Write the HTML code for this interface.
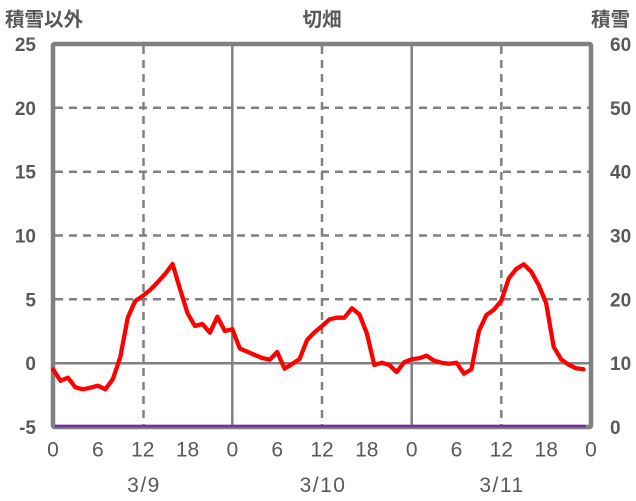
<!DOCTYPE html>
<html>
<head>
<meta charset="utf-8">
<style>
html,body{margin:0;padding:0;background:#fff;}
svg{display:block;}
text{font-family:"Liberation Sans","Noto Sans CJK JP",sans-serif;fill:#595959;}
</style>
</head>
<body>
<svg width="636" height="501" viewBox="0 0 636 501" xmlns="http://www.w3.org/2000/svg">
  <!-- horizontal dashed grid -->
  <g stroke="#808080" stroke-width="2.5" stroke-dasharray="8 6" fill="none">
    <line x1="55" y1="107.8" x2="589" y2="107.8"/>
    <line x1="55" y1="171.7" x2="589" y2="171.7"/>
    <line x1="55" y1="235.5" x2="589" y2="235.5"/>
    <line x1="55" y1="299.3" x2="589" y2="299.3"/>
    <!-- vertical dashed -->
    <line x1="143.5" y1="46" x2="143.5" y2="425"/>
    <line x1="322" y1="46" x2="322" y2="425"/>
    <line x1="501.3" y1="46" x2="501.3" y2="425"/>
  </g>
  <g stroke="#808080" stroke-width="2.5" fill="none">
    <line x1="55" y1="363.2" x2="589" y2="363.2"/>
    <line x1="232.3" y1="46" x2="232.3" y2="425"/>
    <line x1="411.7" y1="46" x2="411.7" y2="425"/>
  </g>
  <!-- frame -->
  <rect x="53" y="44" width="538" height="383" fill="none" stroke="#808080" stroke-width="4.5" rx="1.5"/>
  <!-- snow line -->
  <line x1="55" y1="426" x2="586" y2="426" stroke="#7030A0" stroke-width="2.5"/>
  <!-- temperature line -->
  <polyline fill="none" stroke="#FF0000" stroke-width="4.3" stroke-linejoin="round" stroke-linecap="round"
    points="53,369.3 60.47,380.7 67.94,377.7 75.42,387.3 82.89,389.3 90.36,387.7 97.83,385.7 105.31,389.3 112.78,379.3 120.25,357.3 127.72,317.7 135.19,301 142.67,296 150.14,290 157.61,282.3 165.08,274 172.56,264 180.03,289 187.5,313.3 194.97,326 202.44,324 209.92,332.7 217.39,316.7 224.86,331 232.33,329.2 239.81,348.5 247.28,351.7 254.75,355 262.22,358 269.69,359.7 277.17,352 284.64,368.7 292.11,364 299.58,359 307.06,340 314.53,332.3 322,326 329.47,319.3 336.94,317.7 344.42,317.7 351.89,308.3 359.36,314.3 366.83,333.3 374.31,365 381.78,362.7 389.25,365 396.72,372 404.19,362.2 411.67,359.3 419.14,358.3 426.61,355.7 434.08,360.7 441.56,362.7 449.03,363.7 456.5,362.7 463.97,373.7 471.44,369.3 478.92,331 486.39,315 493.86,309.7 501.33,300.7 508.81,278.3 516.28,269 523.75,264.3 531.22,271.7 538.69,285 546.17,303.3 553.64,346.7 561.11,359.3 568.58,364.7 576.06,368.3 583.53,369.3"/>
  <!-- titles -->
  <text x="5" y="26" font-size="19.5" font-weight="bold">積雪以外</text>
  <text x="322" y="26" font-size="19.5" font-weight="bold" text-anchor="middle">切畑</text>
  <text x="630" y="26" font-size="19.5" font-weight="bold" text-anchor="end">積雪</text>
  <!-- left y ticks -->
  <g font-size="19" font-weight="bold" text-anchor="end">
    <text x="36" y="51">25</text>
    <text x="36" y="114.8">20</text>
    <text x="36" y="178.7">15</text>
    <text x="36" y="242.5">10</text>
    <text x="36" y="306.3">5</text>
    <text x="36" y="370.2">0</text>
    <text x="36" y="434">-5</text>
  </g>
  <!-- right y ticks -->
  <g font-size="19" font-weight="bold" text-anchor="start">
    <text x="610" y="51">60</text>
    <text x="610" y="114.8">50</text>
    <text x="610" y="178.7">40</text>
    <text x="610" y="242.5">30</text>
    <text x="610" y="306.3">20</text>
    <text x="610" y="370.2">10</text>
    <text x="610" y="434">0</text>
  </g>
  <!-- x ticks -->
  <g font-size="21" text-anchor="middle">
    <text x="53" y="456.5">0</text>
    <text x="97.8" y="456.5">6</text>
    <text x="142.7" y="456.5">12</text>
    <text x="187.5" y="456.5">18</text>
    <text x="232.3" y="456.5">0</text>
    <text x="277.2" y="456.5">6</text>
    <text x="322" y="456.5">12</text>
    <text x="366.8" y="456.5">18</text>
    <text x="411.7" y="456.5">0</text>
    <text x="456.5" y="456.5">6</text>
    <text x="501.3" y="456.5">12</text>
    <text x="546.2" y="456.5">18</text>
    <text x="591" y="456.5">0</text>
  </g>
  <!-- dates -->
  <g font-size="21" text-anchor="middle" letter-spacing="1.5">
    <text x="144" y="492">3/9</text>
    <text x="323" y="492">3/10</text>
    <text x="502" y="492">3/11</text>
  </g>
</svg>
</body>
</html>
